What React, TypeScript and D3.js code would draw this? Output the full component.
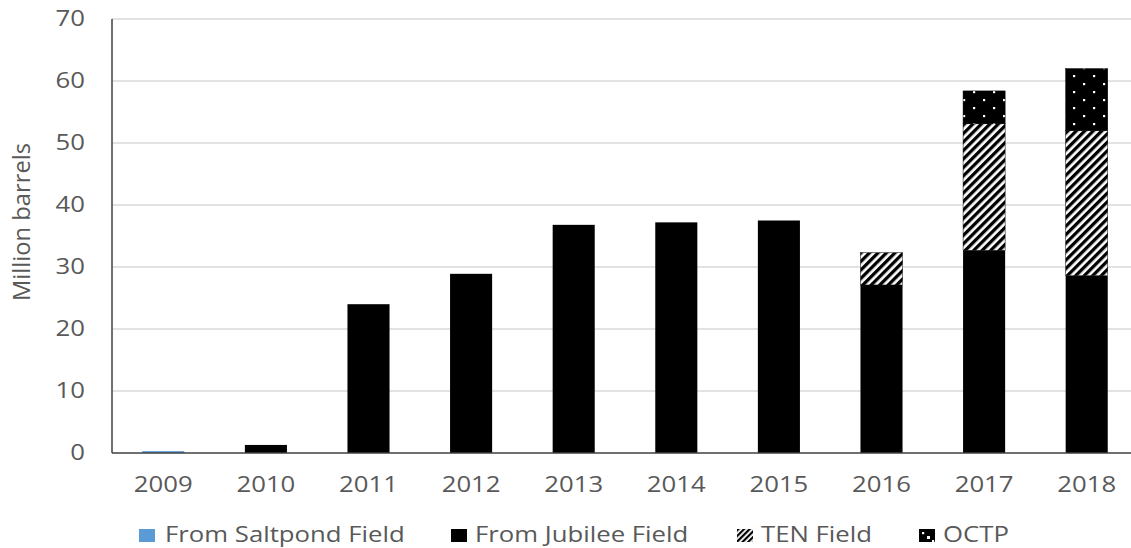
import React from "react";
import * as d3 from "d3";

const years = ["2009", "2010", "2011", "2012", "2013", "2014", "2015", "2016", "2017", "2018"];
const saltpond = [0.3, 0, 0, 0, 0, 0, 0, 0, 0, 0];
const jubilee = [0, 1.3, 24.0, 28.9, 36.8, 37.2, 37.5, 27.1, 32.7, 28.6];
const ten = [0, 0, 0, 0, 0, 0, 0, 5.2, 20.4, 23.4];
const octp = [0, 0, 0, 0, 0, 0, 0, 0, 5.3, 10.0];
const yTicks = [0, 10, 20, 30, 40, 50, 60, 70];
const seriesNames = ["From Saltpond Field", "From Jubilee Field", "TEN Field", "OCTP"];

const W = 1131;
const H = 548;
const left = 112;
const right = 1138;
const top = 19;
const bottom = 453;
const FONT = "'Open Sans', sans-serif";
const TXT = "#595959";
const SX = 1.17;
const FS = 22;

export default function App() {
  const x = d3.scaleBand<string>().domain(years).range([left, right]).paddingInner(0.59).paddingOuter(0.295);
  const y = d3.scaleLinear().domain([0, 70]).range([bottom, top]);
  const fills = ["#5b9bd5", "#000000", "url(#hatch)", "url(#dots)"];
  const data = years.map((yr, i) => ({ yr, vals: [saltpond[i], jubilee[i], ten[i], octp[i]] }));
  const legendX = [139, 451, 737, 919];

  return (
    <svg width={W} height={H} style={{ position: "absolute", left: 0, top: 0, background: "#fff" }} fontFamily={FONT}>
      <defs>
        <pattern id="hatch" patternUnits="userSpaceOnUse" width="6" height="6" patternTransform="rotate(45)">
          <rect width="6" height="6" fill="#fff" />
          <rect x="0" y="0" width="3.3" height="6" fill="#000" />
        </pattern>
        <pattern id="dots" patternUnits="userSpaceOnUse" width="20" height="16">
          <rect width="20" height="16" fill="#000" />
          <rect x="3" y="3" width="2.2" height="2.2" fill="#fff" />
          <rect x="13" y="11" width="2.2" height="2.2" fill="#fff" />
        </pattern>
        <pattern id="hatchS" patternUnits="userSpaceOnUse" width="4" height="4" patternTransform="rotate(45)">
          <rect width="4" height="4" fill="#fff" />
          <rect x="0" y="0" width="2.2" height="4" fill="#000" />
        </pattern>
      </defs>
      <rect width={W} height={H} fill="#fff" />
      {yTicks.filter((t) => t > 0).map((t) => (
        <line key={t} x1={left} x2={W} y1={y(t)} y2={y(t)} stroke="#d9d9d9" strokeWidth={1.5} />
      ))}
      {yTicks.map((t) => (
        <text key={"l" + t} transform={`translate(85,${y(t) + 7}) scale(${SX},1)`} textAnchor="end" fontSize={FS} fill={TXT}>
          {t}
        </text>
      ))}
      <text transform={`translate(30,222) rotate(-90) scale(1,${SX})`} textAnchor="middle" fontSize={20} fill={TXT} textLength={158} lengthAdjust="spacingAndGlyphs">
        Million barrels
      </text>
      {data.map((d) => {
        let acc = 0;
        return d.vals.map((v, k) => {
          if (v <= 0) return null;
          const y0 = acc;
          acc += v;
          return (
            <rect
              key={d.yr + k}
              x={x(d.yr)!}
              width={x.bandwidth()}
              y={y(acc)}
              height={y(y0) - y(acc)}
              fill={fills[k]}
              stroke={k >= 2 ? "#000" : "none"}
              strokeWidth={k >= 2 ? 0.5 : 0}
            />
          );
        });
      })}
      <line x1={left} x2={W} y1={bottom} y2={bottom} stroke="#404040" strokeWidth={1.5} />
      <line x1={left} x2={left} y1={top} y2={bottom} stroke="#404040" strokeWidth={1.5} />
      {years.map((yr) => (
        <text key={"x" + yr} transform={`translate(${x(yr)! + x.bandwidth() / 2},492) scale(${SX},1)`} textAnchor="middle" fontSize={FS} fill={TXT}>
          {yr}
        </text>
      ))}
      {seriesNames.map((n, k) => (
        <g key={n} transform={`translate(${legendX[k]},529)`}>
          <rect x={0} y={0} width={16} height={13} fill={k === 2 ? "url(#hatchS)" : fills[k]} />
          {k === 3 && <rect x={8} y={7} width={3} height={3} fill="#fff" />}
          <text transform={`translate(${k === 0 ? 26 : 24},13) scale(${SX},1)`} fontSize={FS} fill={TXT}>
            {n}
          </text>
        </g>
      ))}
    </svg>
  );
}
